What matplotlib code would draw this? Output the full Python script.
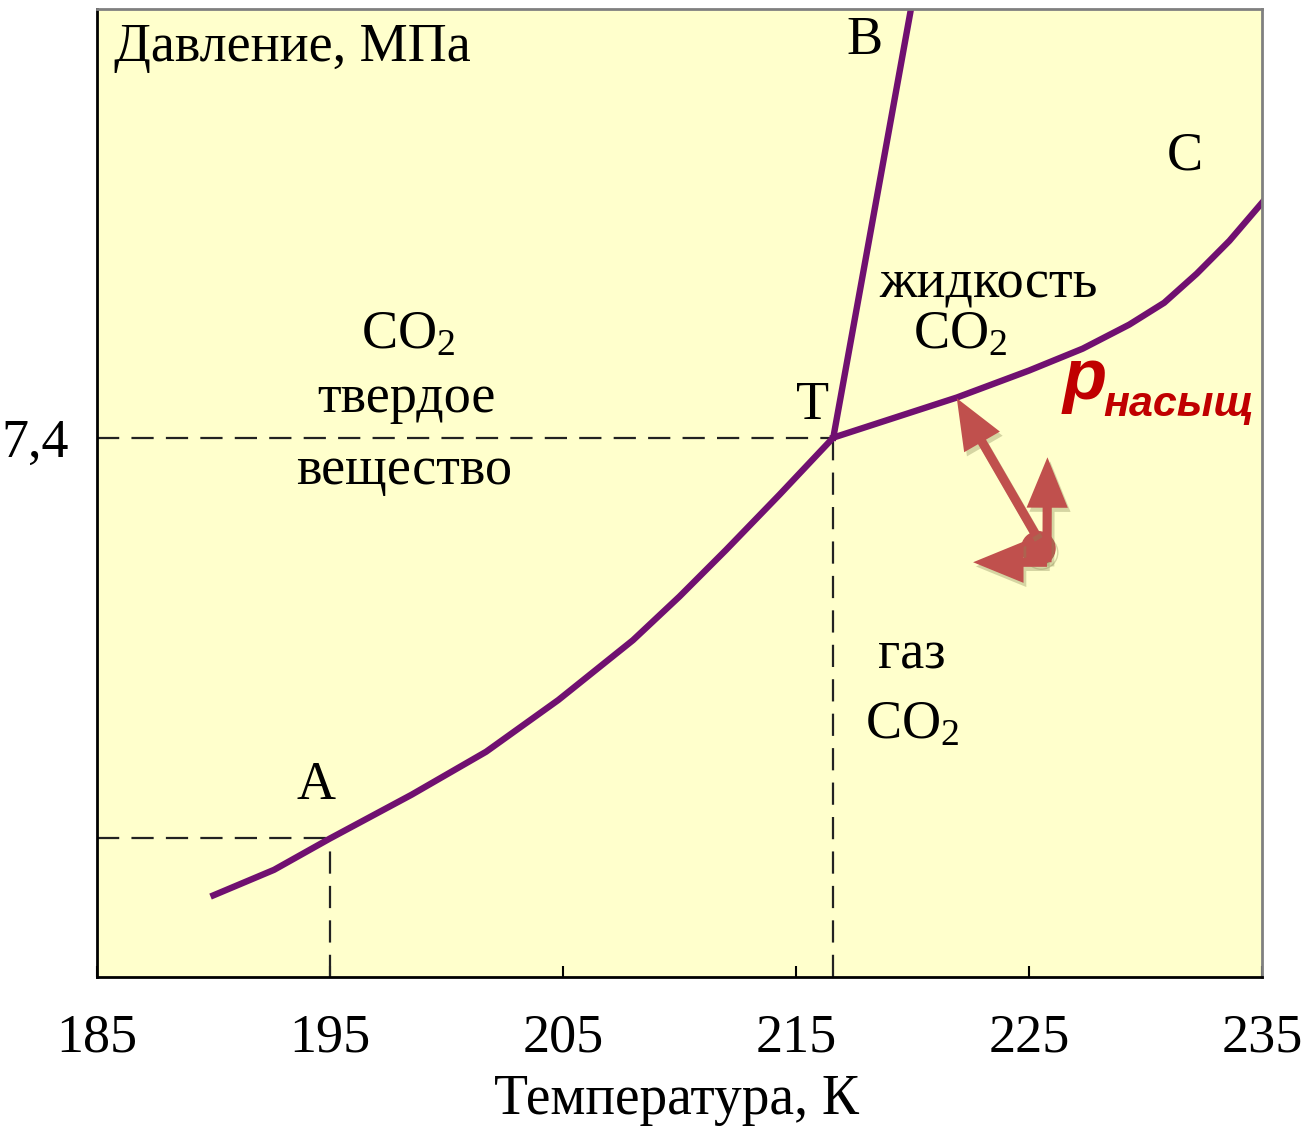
import matplotlib
matplotlib.use("Agg")
import matplotlib.pyplot as plt
import matplotlib.patheffects as pe

plt.rcParams['font.family'] = ['Liberation Serif', 'DejaVu Serif']
plt.rcParams['mathtext.fontset'] = 'custom'
plt.rcParams['mathtext.rm'] = 'Liberation Serif'
plt.rcParams['mathtext.it'] = 'Liberation Serif:italic'

# phase diagram of CO2 (temperature K, pressure in relative units)
sub_T = [190.0, 192.6, 195.0, 198.5, 201.7, 204.8, 208.0, 210.0, 212.0, 214.3, 216.6]
sub_p = [1.12, 1.47, 1.90, 2.50, 3.09, 3.80, 4.62, 5.22, 5.86, 6.62, 7.40]

melt_T = [216.6, 220.0]
melt_p = [7.40, 13.4]

vap_T = [216.6, 221.9, 225.0, 227.3, 229.3, 230.8, 232.2, 233.6, 235.1]
vap_p = [7.40, 7.95, 8.32, 8.62, 8.95, 9.25, 9.65, 10.10, 10.66]

triple_T, triple_p = 216.6, 7.40
pointA_T, pointA_p = 195.0, 1.90

xticks = [185, 195, 205, 215, 225, 235]
yticks = [7.4]
ytick_labels = ['7,4']

# state point and its arrows (tail -> tip)
dot_T, dot_p = 225.4, 5.88
arrow_tail_T = [225.3, 225.77, 225.77]
arrow_tail_p = [6.06, 5.69, 5.69]
arrow_tip_T = [221.9, 225.79, 222.6]
arrow_tip_p = [7.94, 7.13, 5.69]

purple = '#701070'
arrow_col = '#c0504d'
dash = (0, (10, 5.5))

fig = plt.figure(figsize=(13.07, 11.31), dpi=100)
ax = fig.add_axes([0.0742, 0.1362, 0.8914, 0.8558])
ax.set_facecolor('#ffffcc')

ax.set_xlim(185, 235)
ax.set_ylim(0, 13.28)

# dashed guide lines
ax.plot([185, triple_T], [triple_p, triple_p], ls=dash, color='#222222', lw=1.6)
ax.plot([triple_T, triple_T], [0, triple_p], ls=dash, color='#222222', lw=1.6)
ax.plot([185, pointA_T], [pointA_p, pointA_p], ls=dash, color='#222222', lw=1.6)
ax.plot([pointA_T, pointA_T], [0, pointA_p], ls=dash, color='#222222', lw=1.6)

# phase boundaries
ax.plot(sub_T, sub_p, color=purple, lw=4.6, solid_joinstyle='round')
ax.plot(melt_T, melt_p, color=purple, lw=4.6)
ax.plot(vap_T, vap_p, color=purple, lw=4.6, solid_joinstyle='round')

# arrows from the state point
shadow = [pe.SimplePatchShadow(offset=(2, -3), shadow_rgbFace='#888855', alpha=0.35),
          pe.Normal()]
ax.plot([dot_T], [dot_p], 'o', ms=24, color=arrow_col, zorder=5,
        path_effects=[pe.SimpleLineShadow(offset=(2, -3), shadow_color='#888855', alpha=0.35),
                      pe.Normal()])
for x0, y0, x1, y1 in zip(arrow_tail_T, arrow_tail_p, arrow_tip_T, arrow_tip_p):
    ax.annotate('', xy=(x1, y1), xytext=(x0, y0), zorder=6,
                arrowprops=dict(arrowstyle='simple,head_length=1.1,head_width=0.9,tail_width=0.2',
                                fc=arrow_col, ec='none', mutation_scale=33,
                                shrinkA=0, shrinkB=0, path_effects=shadow))

# labels
fs = 39
ax.text(185.75, 12.75, 'Давление, МПа', fontsize=fs, ha='left', va='center')
ax.text(217.96, 12.84, 'B', fontsize=fs, ha='center', va='center')
ax.text(231.7, 11.26, 'C', fontsize=fs, ha='center', va='center')
ax.text(215.69, 7.84, 'T', fontsize=fs, ha='center', va='center')
ax.text(194.4, 2.63, 'A', fontsize=fs, ha='center', va='center')
ax.text(198.35, 8.80, 'CO$_2$', fontsize=fs, ha='center', va='center')
ax.text(198.26, 7.93, 'твердое', fontsize=fs, ha='center', va='center')
ax.text(198.2, 6.95, 'вещество', fontsize=fs, ha='center', va='center')
ax.text(223.24, 9.51, 'жидкость', fontsize=fs, ha='center', va='center')
ax.text(222.04, 8.80, 'CO$_2$', fontsize=fs, ha='center', va='center')
ax.text(219.98, 4.41, 'газ', fontsize=fs, ha='center', va='center')
ax.text(219.98, 3.45, 'CO$_2$', fontsize=fs, ha='center', va='center')

ax.text(226.45, 7.93, 'p', fontsize=52, color='#c00000', fontweight='bold',
        fontstyle='italic', family='Liberation Sans', ha='left', va='baseline')
ax.text(228.2, 7.70, 'насыщ', fontsize=31, color='#c00000', fontweight='bold',
        fontstyle='italic', family='Liberation Sans', ha='left', va='baseline')

ax.set_xticks(xticks)
ax.set_xticklabels([str(t) for t in xticks], fontsize=fs)
ax.set_yticks(yticks)
ax.set_yticklabels(ytick_labels, fontsize=fs)
ax.tick_params(axis='x', direction='in', length=8, width=1.5, pad=26)
ax.tick_params(axis='y', length=0, pad=20)

for side in ['left', 'bottom']:
    ax.spines[side].set_color('black')
    ax.spines[side].set_linewidth(2)
for side in ['top', 'right']:
    ax.spines[side].set_color('#808080')
    ax.spines[side].set_linewidth(2)

fig.text(677 / 1307, 1 - 1100 / 1131, 'Температура, К', fontsize=40,
         ha='center', va='center')

fig.savefig('out.png', dpi=100)
